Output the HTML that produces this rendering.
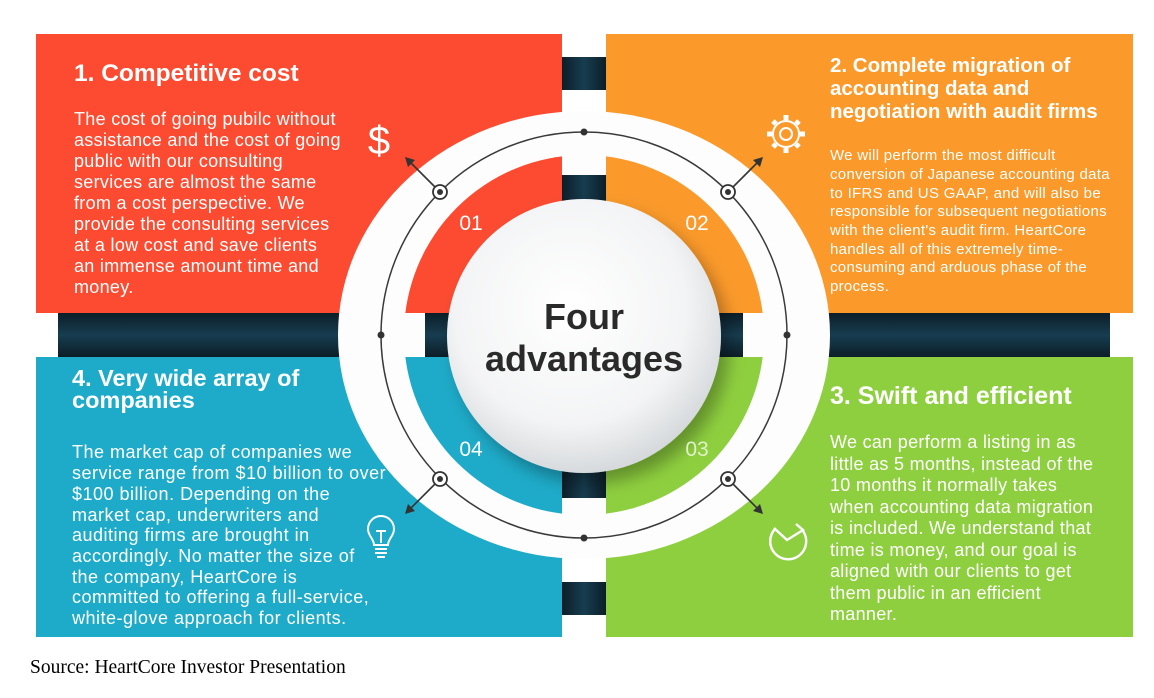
<!DOCTYPE html>
<html><head><meta charset="utf-8"><style>
html,body{margin:0;padding:0;background:#fff;width:1154px;height:698px;overflow:hidden}
svg{display:block}
text{font-family:"Liberation Sans",sans-serif;fill:#fff}
</style></head><body>
<svg width="1154" height="698" viewBox="0 0 1154 698" xmlns="http://www.w3.org/2000/svg">
<defs>
<radialGradient id="cg" cx="0.45" cy="0.4" r="0.65">
<stop offset="0" stop-color="#ffffff"/><stop offset="0.65" stop-color="#f3f4f5"/><stop offset="1" stop-color="#cfd3d6"/>
</radialGradient>
<filter id="sh" x="-30%" y="-30%" width="160%" height="160%"><feDropShadow dx="8" dy="10" stdDeviation="8" flood-color="#000" flood-opacity="0.3"/></filter>
<linearGradient id="dv" x1="0" x2="1"><stop offset="0" stop-color="#0c1e28"/><stop offset="0.5" stop-color="#173d50"/><stop offset="1" stop-color="#0c1e28"/></linearGradient>
<linearGradient id="dh" x1="0" y1="0" x2="0" y2="1"><stop offset="0" stop-color="#0c1e28"/><stop offset="0.5" stop-color="#173d50"/><stop offset="1" stop-color="#0c1e28"/></linearGradient>
<clipPath id="q1"><rect x="0" y="0" width="562" height="313"/></clipPath>
<clipPath id="q2"><rect x="606" y="0" width="600" height="313"/></clipPath>
<clipPath id="q3"><rect x="606" y="357" width="600" height="400"/></clipPath>
<clipPath id="q4"><rect x="0" y="357" width="562" height="400"/></clipPath>
</defs>
<rect x="36" y="34" width="526" height="279" fill="#fc4b31"/>
<rect x="606" y="34" width="527" height="279" fill="#fb9a2b"/>
<rect x="36" y="357" width="526" height="280" fill="#1eabc9"/>
<rect x="606" y="357" width="527" height="280" fill="#8ecf3f"/>
<rect x="562" y="57" width="44" height="33" fill="url(#dv)"/>
<rect x="562" y="582" width="44" height="33" fill="url(#dv)"/>
<rect x="58" y="313" width="290" height="44" fill="url(#dh)"/>
<rect x="820" y="313" width="290" height="44" fill="url(#dh)"/>
<ellipse cx="584" cy="335" rx="246" ry="224" fill="#fdfdfd"/>
<circle cx="584" cy="335" r="180" fill="#fc4b31" clip-path="url(#q1)"/>
<circle cx="584" cy="335" r="180" fill="#fb9a2b" clip-path="url(#q2)"/>
<circle cx="584" cy="335" r="180" fill="#8ecf3f" clip-path="url(#q3)"/>
<circle cx="584" cy="335" r="180" fill="#1eabc9" clip-path="url(#q4)"/>
<rect x="562" y="175" width="44" height="30" fill="url(#dv)"/>
<rect x="562" y="468" width="44" height="30" fill="url(#dv)"/>
<rect x="425" y="313" width="30" height="44" fill="url(#dh)"/>
<rect x="713" y="313" width="30" height="44" fill="url(#dh)"/>
<circle cx="584" cy="335" r="203" fill="none" stroke="#3a3a3a" stroke-width="1.5"/>
<circle cx="584" cy="132" r="3.5" fill="#333"/>
<circle cx="584" cy="538" r="3.5" fill="#333"/>
<circle cx="381" cy="335" r="3.5" fill="#333"/>
<circle cx="787" cy="335" r="3.5" fill="#333"/>
<g stroke="#333" stroke-width="1.6" fill="none">
<line x1="440" y1="192" x2="408" y2="160"/>
<line x1="728" y1="192" x2="760" y2="160"/>
<line x1="440" y1="479" x2="408" y2="511"/>
<line x1="728" y1="479" x2="760" y2="511"/>
</g>
<g fill="#333">
<polygon points="405,157 415,160 408,167"/>
<polygon points="763,157 760,167 753,160"/>
<polygon points="405,514 408,504 415,511"/>
<polygon points="763,514 753,511 760,504"/>
</g>
<g fill="#fff" stroke="#333" stroke-width="1.8">
<circle cx="440" cy="192" r="7"/><circle cx="728" cy="192" r="7"/>
<circle cx="440" cy="479" r="7"/><circle cx="728" cy="479" r="7"/>
</g>
<g fill="#333">
<circle cx="440" cy="192" r="3"/><circle cx="728" cy="192" r="3"/>
<circle cx="440" cy="479" r="3"/><circle cx="728" cy="479" r="3"/>
</g>
<circle cx="584" cy="336" r="137" fill="url(#cg)" filter="url(#sh)"/>
<text x="584" y="329" text-anchor="middle" font-size="36" font-weight="bold" style="fill:#2a2a2a">Four</text>
<text x="584" y="371" text-anchor="middle" font-size="36" font-weight="bold" style="fill:#2a2a2a">advantages</text>
<g font-size="21">
<text x="471" y="230" text-anchor="middle">01</text>
<text x="697" y="230" text-anchor="middle">02</text>
<text x="471" y="456" text-anchor="middle">04</text>
<text x="697" y="456" text-anchor="middle" style="fill:#dff1c8">03</text>
</g>
<text x="379" y="154" text-anchor="middle" font-size="40">$</text>
<g transform="translate(786,134)" fill="none" stroke="#fff" stroke-width="2">
<circle r="13"/><circle r="6"/>
<g stroke-width="5">
<line x1="0" y1="-14" x2="0" y2="-19"/><line x1="0" y1="14" x2="0" y2="19"/>
<line x1="-14" y1="0" x2="-19" y2="0"/><line x1="14" y1="0" x2="19" y2="0"/>
<line x1="10" y1="10" x2="13" y2="13"/><line x1="-10" y1="-10" x2="-13" y2="-13"/>
<line x1="10" y1="-10" x2="13" y2="-13"/><line x1="-10" y1="10" x2="-13" y2="13"/>
</g></g>
<g transform="translate(381,537)" fill="none" stroke="#fff" stroke-width="2">
<path d="M-7,8 C-7,2 -13,-1 -13,-8 A13,13 0 1 1 13,-8 C13,-1 7,2 7,8 Z"/>
<line x1="-5" y1="-6" x2="5" y2="-6"/><line x1="0" y1="-6" x2="0" y2="6"/>
<line x1="-6" y1="12" x2="6" y2="12"/><line x1="-6" y1="16" x2="6" y2="16"/><line x1="-4" y1="20" x2="4" y2="20"/>
</g>
<g transform="translate(788,541)" fill="none" stroke="#fff" stroke-width="2.4">
<path d="M-13,-12 A18,18 0 1 0 15,-10"/>
<path d="M-14,-13 L-1,-1 L15,-11 L8,-17"/>
</g>
<text x="74" y="81" font-size="24.5" font-weight="bold">1. Competitive cost</text>
<g font-size="18" letter-spacing="0.3">
<text x="74" y="125">The cost of going pubilc without</text>
<text x="74" y="146">assistance and the cost of going</text>
<text x="74" y="167">public with our consulting</text>
<text x="74" y="188">services are almost the same</text>
<text x="74" y="209">from a cost perspective. We</text>
<text x="74" y="230">provide the consulting services</text>
<text x="74" y="251">at a low cost and save clients</text>
<text x="74" y="272">an immense amount time and</text>
<text x="74" y="293">money.</text>
</g>
<g font-size="20.5" font-weight="bold">
<text x="830" y="72">2. Complete migration of</text>
<text x="830" y="95">accounting data and</text>
<text x="830" y="118">negotiation with audit firms</text>
</g>
<g font-size="15" letter-spacing="0.3">
<text x="830" y="160">We will perform the most difficult</text>
<text x="830" y="179">conversion of Japanese accounting data</text>
<text x="830" y="198">to IFRS and US GAAP, and will also be</text>
<text x="830" y="216">responsible for subsequent negotiations</text>
<text x="830" y="235">with the client's audit firm. HeartCore</text>
<text x="830" y="254">handles all of this extremely time-</text>
<text x="830" y="272">consuming and arduous phase of the</text>
<text x="830" y="291">process.</text>
</g>
<g font-size="23.5" font-weight="bold">
<text x="72" y="386">4. Very wide array of</text>
<text x="72" y="408">companies</text>
</g>
<g font-size="18" letter-spacing="0.5">
<text x="72" y="458">The market cap of companies we</text>
<text x="72" y="479">service range from $10 billion to over</text>
<text x="72" y="500">$100 billion. Depending on the</text>
<text x="72" y="521">market cap, underwriters and</text>
<text x="72" y="541">auditing firms are brought in</text>
<text x="72" y="562">accordingly. No matter the size of</text>
<text x="72" y="583">the company, HeartCore is</text>
<text x="72" y="603">committed to offering a full-service,</text>
<text x="72" y="624">white-glove approach for clients.</text>
</g>
<text x="830" y="404" font-size="25" font-weight="bold">3. Swift and efficient</text>
<g font-size="18" letter-spacing="0.3">
<text x="830" y="448">We can perform a listing in as</text>
<text x="830" y="470">little as 5 months, instead of the</text>
<text x="830" y="491">10 months it normally takes</text>
<text x="830" y="513">when accounting data migration</text>
<text x="830" y="534">is included. We understand that</text>
<text x="830" y="556">time is money, and our goal is</text>
<text x="830" y="577">aligned with our clients to get</text>
<text x="830" y="599">them public in an efficient</text>
<text x="830" y="620">manner.</text>
</g>
<text x="30" y="673" font-size="19.5" style="fill:#000;font-family:'Liberation Serif',serif">Source: HeartCore Investor Presentation</text>
</svg>
</body></html>
